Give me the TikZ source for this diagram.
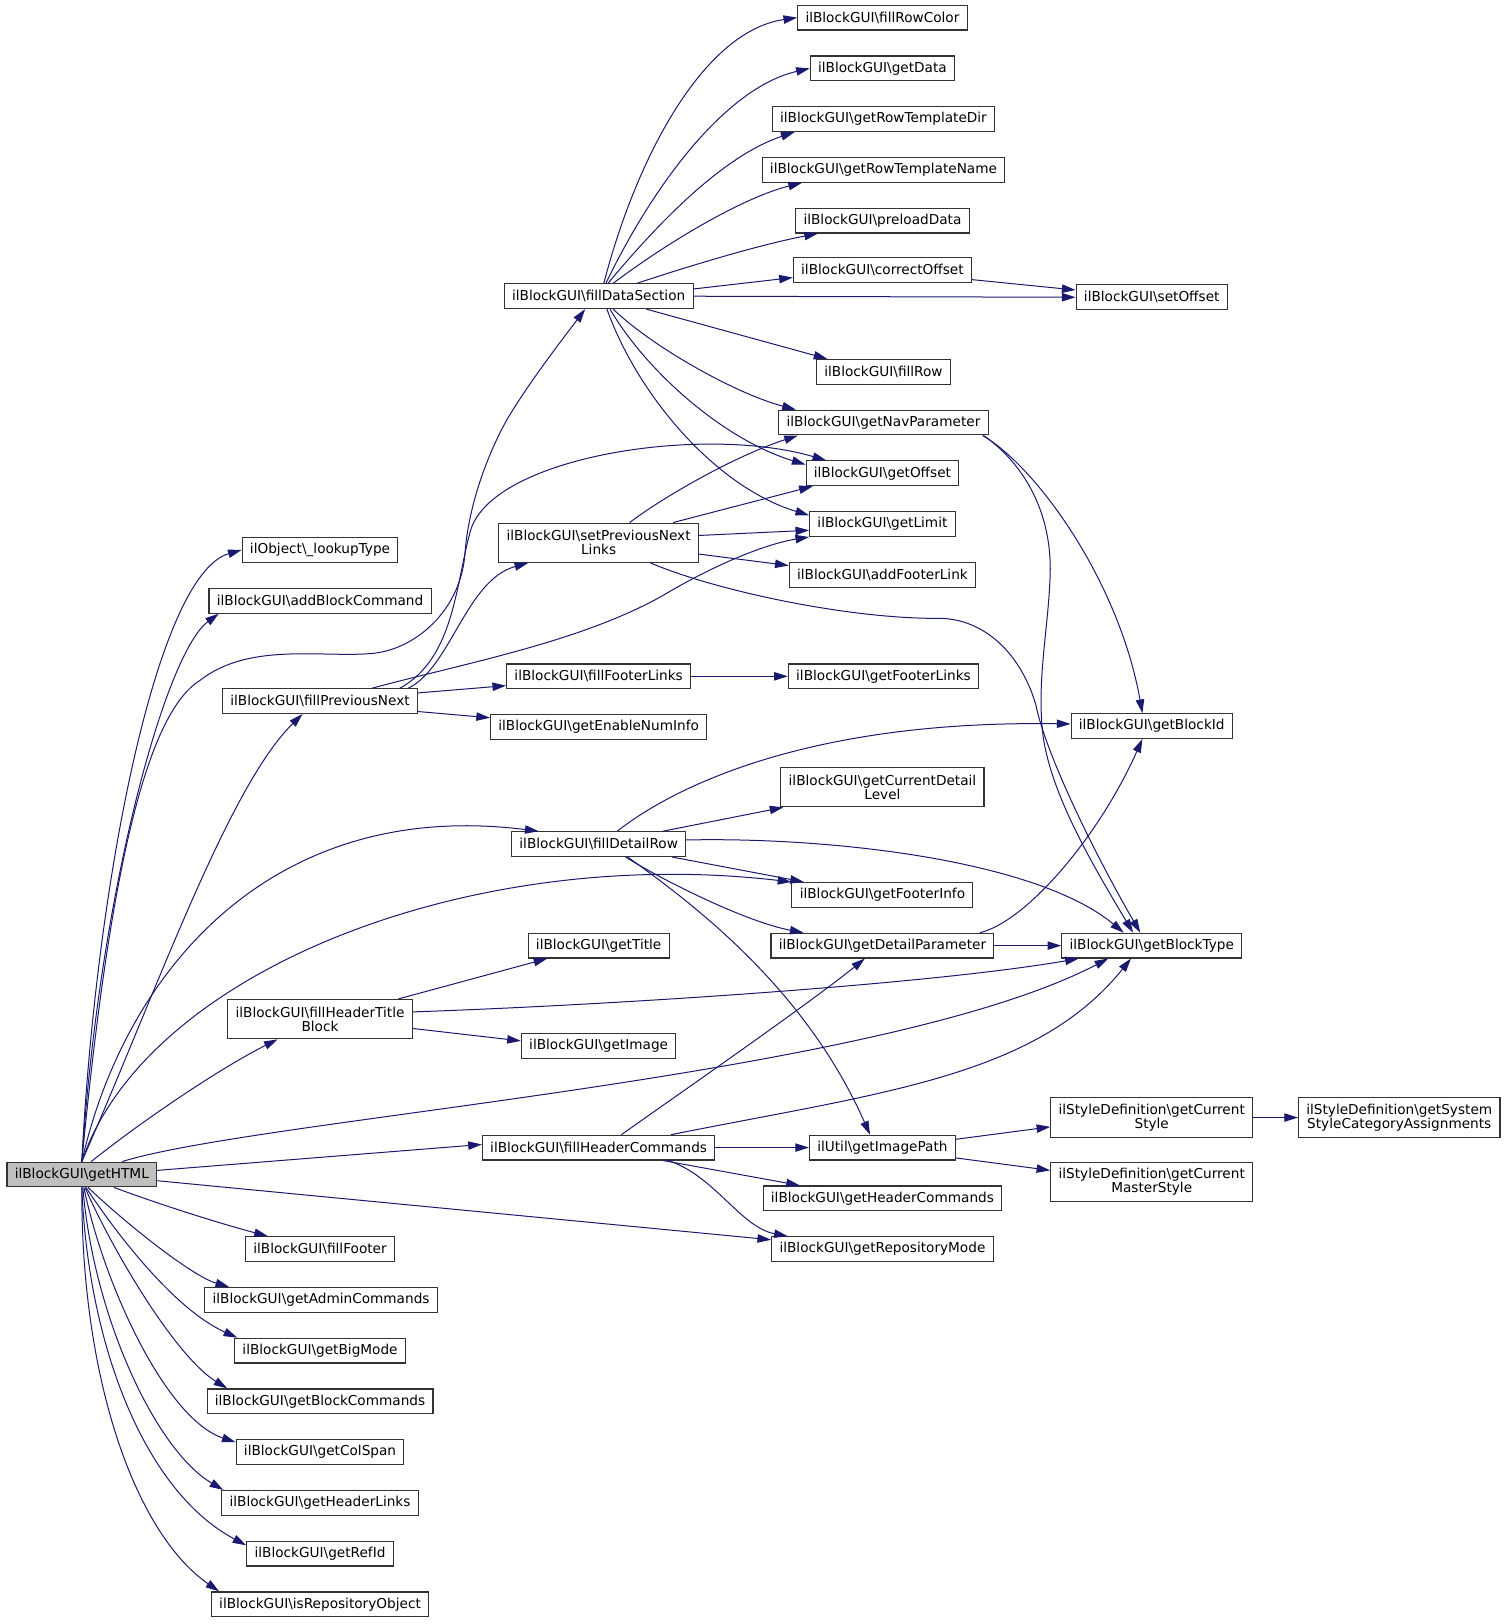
\documentclass[tikz,border=0pt]{standalone}
\usepackage{fontspec}
\setmainfont{DejaVu Sans}
\usetikzlibrary{arrows.meta}

\definecolor{callblue}{HTML}{191970}
\definecolor{rootgray}{HTML}{BFBFBF}
\newcommand{\bsl}{\textbackslash}

\begin{document}
\begin{tikzpicture}[
        x=0.02cm, y=-0.02cm,
        font=\fontsize{7.5}{7.9}\selectfont,
        fn/.style={
            draw=black!80,
            fill=white,
            line width=0.6pt,
            align=center,
            inner xsep=4.3pt,
            inner ysep=1pt,
            minimum height=13.6pt
        },
        fntwo/.style={fn, minimum height=21.6pt},
        rootfn/.style={fn, fill=rootgray},
        call/.style={
            draw=callblue,
            line width=0.55pt,
            -{Triangle[length=7.5pt, width=4.6pt]}
        }
    ]

    \useasboundingbox (0,0) rectangle (1453,1568);

    % caller
    \node[rootfn] (gethtml) at (79,1134) {ilBlockGUI\bsl getHTML};

    % first column
    \node[fn] (lookuptype) at (309,531) {ilObject\bsl\_lookupType};
    \node[fn] (addblockcmd) at (309,580) {ilBlockGUI\bsl addBlockCommand};
    \node[fn] (fillprevnext) at (309,677) {ilBlockGUI\bsl fillPreviousNext};
    \node[fntwo] (fillhdrtitle) at (309,984) {ilBlockGUI\bsl fillHeaderTitle\\Block};
    \node[fn] (fillfooter) at (309,1206) {ilBlockGUI\bsl fillFooter};
    \node[fn] (getadmincmds) at (310,1255) {ilBlockGUI\bsl getAdminCommands};
    \node[fn] (getbigmode) at (309,1304) {ilBlockGUI\bsl getBigMode};
    \node[fn] (getblockcmds) at (309,1353) {ilBlockGUI\bsl getBlockCommands};
    \node[fn] (getcolspan) at (309,1402) {ilBlockGUI\bsl getColSpan};
    \node[fn] (gethdrlinks) at (309,1451) {ilBlockGUI\bsl getHeaderLinks};
    \node[fn] (getrefid) at (309,1500) {ilBlockGUI\bsl getRefId};
    \node[fn] (isrepoobj) at (309,1549) {ilBlockGUI\bsl isRepositoryObject};

    % second column
    \node[fn] (filldatasec) at (578,286) {ilBlockGUI\bsl fillDataSection};
    \node[fntwo] (setprevnextlinks) at (578,524) {ilBlockGUI\bsl setPreviousNext\\Links};
    \node[fn] (fillfooterlinks) at (578,653) {ilBlockGUI\bsl fillFooterLinks};
    \node[fn] (getenablenuminfo) at (578,702) {ilBlockGUI\bsl getEnableNumInfo};
    \node[fn] (filldetailrow) at (578,815) {ilBlockGUI\bsl fillDetailRow};
    \node[fn] (gettitle) at (578,913) {ilBlockGUI\bsl getTitle};
    \node[fn] (getimage) at (578,1010) {ilBlockGUI\bsl getImage};
    \node[fn] (fillhdrcmds) at (578,1108) {ilBlockGUI\bsl fillHeaderCommands};

    % third column
    \node[fn] (fillrowcolor) at (852,17) {ilBlockGUI\bsl fillRowColor};
    \node[fn] (getdata) at (852,66) {ilBlockGUI\bsl getData};
    \node[fn] (getrowtpldir) at (853,115) {ilBlockGUI\bsl getRowTemplateDir};
    \node[fn] (getrowtplname) at (853,164) {ilBlockGUI\bsl getRowTemplateName};
    \node[fn] (preloaddata) at (852,213) {ilBlockGUI\bsl preloadData};
    \node[fn] (correctoffset) at (852,261) {ilBlockGUI\bsl correctOffset};
    \node[fn] (fillrow) at (853,359) {ilBlockGUI\bsl fillRow};
    \node[fn] (getnavparam) at (853,408) {ilBlockGUI\bsl getNavParameter};
    \node[fn] (getoffset) at (852,457) {ilBlockGUI\bsl getOffset};
    \node[fn] (getlimit) at (852,506) {ilBlockGUI\bsl getLimit};
    \node[fn] (addfooterlink) at (852,555) {ilBlockGUI\bsl addFooterLink};
    \node[fn] (getfooterlinks) at (853,653) {ilBlockGUI\bsl getFooterLinks};
    \node[fntwo] (getcurdetail) at (852,760) {ilBlockGUI\bsl getCurrentDetail\\Level};
    \node[fn] (getfooterinfo) at (852,864) {ilBlockGUI\bsl getFooterInfo};
    \node[fn] (getdetailparam) at (852,913) {ilBlockGUI\bsl getDetailParameter};
    \node[fn] (getimagepath) at (852,1108) {ilUtil\bsl getImagePath};
    \node[fn] (gethdrcmds) at (852,1157) {ilBlockGUI\bsl getHeaderCommands};
    \node[fn] (getrepomode) at (852,1206) {ilBlockGUI\bsl getRepositoryMode};

    % fourth and fifth column
    \node[fn] (setoffset) at (1112,287) {ilBlockGUI\bsl setOffset};
    \node[fn] (getblockid) at (1112,701) {ilBlockGUI\bsl getBlockId};
    \node[fn] (getblocktype) at (1112,913) {ilBlockGUI\bsl getBlockType};
    \node[fntwo] (getcurstyle) at (1112,1079) {ilStyleDefinition\bsl getCurrent\\Style};
    \node[fntwo] (getcurmaster) at (1112,1141) {ilStyleDefinition\bsl getCurrent\\MasterStyle};
    \node[fntwo] (getsysstyle) at (1351,1079) {ilStyleDefinition\bsl getSystem\\StyleCategoryAssignments};

    % calls of getHTML
    \draw[call] (gethtml.north) .. controls (92,860) and (150,555) .. (lookuptype.west);
    \draw[call] (gethtml.north) .. controls (96,860) and (160,630) .. ([shift={(10,0)}]addblockcmd.south west);
    \draw[call] (gethtml.north) .. controls (105,850) and (140,690) .. (193,657)
        .. controls (240,620) and (310,635) .. (358,631)
        .. controls (400,628) and (445,590) .. (449,534)
        .. controls (452,490) and (470,440) .. (489,406)
        .. controls (510,370) and (545,325) .. ([shift={(-13,0)}]filldatasec.south);
    \draw[call] (gethtml.north) .. controls (150,960) and (220,760) .. ([shift={(-17,0)}]fillprevnext.south);
    \draw[call] (gethtml.north) .. controls (120,940) and (260,770) .. ([shift={(-58,0)}]filldetailrow.north);
    \draw[call] (gethtml.north) .. controls (140,940) and (450,815) .. (getfooterinfo.north west);
    \draw[call] ([shift={(9,0)}]gethtml.north) .. controls (140,1080) and (215,1030) .. ([shift={(-41,0)}]fillhdrtitle.south);
    \draw[call] ([shift={(39,0)}]gethtml.north) .. controls (250,1080) and (850,1040) .. ([shift={(-42,0)}]getblocktype.south);
    \draw[call] ([shift={(0,-4)}]gethtml.east) -- ([shift={(0,-3)}]fillhdrcmds.west);
    \draw[call] ([shift={(0,6)}]gethtml.east) -- ([shift={(0,-9)}]getrepomode.west);
    \draw[call] ([shift={(31,0)}]gethtml.south) .. controls (160,1165) and (215,1182) .. ([shift={(22,0)}]fillfooter.north west);
    \draw[call] ([shift={(6,0)}]gethtml.south) .. controls (120,1180) and (185,1232) .. ([shift={(24,0)}]getadmincmds.north west);
    \draw[call] ([shift={(4,0)}]gethtml.south) .. controls (115,1195) and (170,1265) .. ([shift={(3,0)}]getbigmode.north west);
    \draw[call] ([shift={(3,0)}]gethtml.south) .. controls (110,1210) and (170,1310) .. ([shift={(20,0)}]getblockcmds.north west);
    \draw[call] ([shift={(2,0)}]gethtml.south) .. controls (100,1240) and (160,1370) .. ([shift={(0,3)}]getcolspan.north west);
    \draw[call] ([shift={(1,0)}]gethtml.south) .. controls (90,1270) and (150,1400) .. ([shift={(2,0)}]gethdrlinks.north west);
    \draw[call] (gethtml.south) .. controls (85,1300) and (140,1440) .. ([shift={(0,-8)}]getrefid.west);
    \draw[call] (gethtml.south) .. controls (78,1330) and (130,1480) .. ([shift={(8,0)}]isrepoobj.north west);

    % calls of fillDataSection
    \draw[call] ([shift={(5,0)}]filldatasec.north) .. controls (615,150) and (680,30) .. (fillrowcolor.west);
    \draw[call] ([shift={(7,0)}]filldatasec.north) .. controls (630,180) and (700,85) .. (getdata.west);
    \draw[call] ([shift={(9,0)}]filldatasec.north) .. controls (640,210) and (700,150) .. ([shift={(22,0)}]getrowtpldir.south west);
    \draw[call] ([shift={(14,0)}]filldatasec.north) .. controls (650,230) and (720,190) .. ([shift={(39,0)}]getrowtplname.south west);
    \draw[call] ([shift={(37,0)}]filldatasec.north) .. controls (680,252) and (740,235) .. ([shift={(22,0)}]preloaddata.south west);
    \draw[call] ([shift={(0,-7)}]filldatasec.east) -- ([shift={(0,7)}]correctoffset.west);
    \draw[call] (filldatasec.east) -- (setoffset.west);
    \draw[call] ([shift={(46,0)}]filldatasec.south) -- ([shift={(11,0)}]fillrow.north west);
    \draw[call] ([shift={(14,0)}]filldatasec.south) .. controls (630,335) and (710,380) .. ([shift={(17,0)}]getnavparam.north west);
    \draw[call] ([shift={(11,0)}]filldatasec.south) .. controls (625,360) and (700,425) .. ([shift={(0,4)}]getoffset.north west);
    \draw[call] ([shift={(8,0)}]filldatasec.south) .. controls (615,380) and (690,470) .. ([shift={(0,4)}]getlimit.north west);
    \draw[call] ([shift={(0,9)}]correctoffset.east) -- ([shift={(0,-7)}]setoffset.west);

    % calls of fillPreviousNext
    \draw[call] ([shift={(85,0)}]fillprevnext.north) .. controls (435,645) and (450,560) .. ([shift={(-68,0)}]setprevnextlinks.south);
    \draw[call] ([shift={(77,0)}]fillprevnext.north) .. controls (440,635) and (440,560) .. (455,510)
        .. controls (480,440) and (680,410) .. ([shift={(20,0)}]getoffset.north west);
    \draw[call] ([shift={(50,0)}]fillprevnext.north) .. controls (450,640) and (560,620) .. (640,575)
        .. controls (690,545) and (740,525) .. (getlimit.south west);
    \draw[call] ([shift={(0,-8)}]fillprevnext.east) -- ([shift={(0,9)}]fillfooterlinks.west);
    \draw[call] ([shift={(0,10)}]fillprevnext.east) -- ([shift={(0,-9)}]getenablenuminfo.west);

    % calls of setPreviousNextLinks
    \draw[call] ([shift={(30,0)}]setprevnextlinks.north) .. controls (640,480) and (710,440) .. ([shift={(19,0)}]getnavparam.south west);
    \draw[call] ([shift={(72,0)}]setprevnextlinks.north) -- ([shift={(7,0)}]getoffset.south west);
    \draw[call] ([shift={(0,-7)}]setprevnextlinks.east) -- ([shift={(0,6)}]getlimit.west);
    \draw[call] ([shift={(0,11)}]setprevnextlinks.east) -- ([shift={(0,-9)}]addfooterlink.west);
    \draw[call] ([shift={(50,0)}]setprevnextlinks.south) .. controls (690,570) and (820,598) .. (908,597)
        .. controls (950,598) and (985,630) .. (1000,680)
        .. controls (1010,730) and (1060,830) .. ([shift={(-11,0)}]getblocktype.north);

    % calls of getNavParameter
    \draw[call] ([shift={(-6,0)}]getnavparam.south east) .. controls (1000,450) and (1080,560) .. ([shift={(-9,0)}]getblockid.north);
    \draw[call] ([shift={(-5,0)}]getnavparam.south east) .. controls (985,445) and (1015,490) .. (1014,552)
        .. controls (1013,600) and (1002,650) .. (1006,700)
        .. controls (1010,760) and (1055,835) .. ([shift={(-18,0)}]getblocktype.north);

    \draw[call] (fillfooterlinks.east) -- (getfooterlinks.west);

    % calls of fillDetailRow
    \draw[call] ([shift={(18,0)}]filldetailrow.north) .. controls (650,760) and (780,695) .. ([shift={(0,-2)}]getblockid.west);
    \draw[call] ([shift={(62,0)}]filldetailrow.north) -- ([shift={(3,0)}]getcurdetail.south west);
    \draw[call] ([shift={(0,-4)}]filldetailrow.east) .. controls (800,808) and (1000,830) .. ([shift={(-27,0)}]getblocktype.north);
    \draw[call] ([shift={(71,0)}]filldetailrow.south) -- ([shift={(12,0)}]getfooterinfo.north west);
    \draw[call] ([shift={(26,0)}]filldetailrow.south) .. controls (640,850) and (720,890) .. ([shift={(32,0)}]getdetailparam.north west);
    \draw[call] ([shift={(28,0)}]filldetailrow.south) .. controls (680,880) and (780,960) .. ([shift={(-12,0)}]getimagepath.north);

    % calls of getDetailParameter
    \draw[call] (getdetailparam.east) -- (getblocktype.west);
    \draw[call] ([shift={(-14,0)}]getdetailparam.north east) .. controls (990,890) and (1060,810) .. ([shift={(-9,0)}]getblockid.south);

    % calls of fillHeaderTitleBlock
    \draw[call] ([shift={(-14,0)}]fillhdrtitle.north east) -- ([shift={(19,0)}]gettitle.south west);
    \draw[call] ([shift={(0,9)}]fillhdrtitle.east) -- ([shift={(0,-5)}]getimage.west);
    \draw[call] ([shift={(0,-7)}]fillhdrtitle.east) .. controls (600,970) and (900,950) .. ([shift={(17,0)}]getblocktype.south west);

    % calls of fillHeaderCommands
    \draw[call] ([shift={(22,0)}]fillhdrcmds.north) .. controls (650,1060) and (780,970) .. ([shift={(-17,0)}]getdetailparam.south);
    \draw[call] ([shift={(70,0)}]fillhdrcmds.north) .. controls (850,1055) and (1000,1040) .. ([shift={(-20,0)}]getblocktype.south);
    \draw[call] (fillhdrcmds.east) -- (getimagepath.west);
    \draw[call] ([shift={(62,0)}]fillhdrcmds.south) -- ([shift={(36,0)}]gethdrcmds.north west);
    \draw[call] ([shift={(67,0)}]fillhdrcmds.south) .. controls (690,1135) and (715,1185) .. ([shift={(16,0)}]getrepomode.north west);

    % calls of getImagePath
    \draw[call] ([shift={(0,-8)}]getimagepath.east) -- ([shift={(0,9)}]getcurstyle.west);
    \draw[call] ([shift={(0,10)}]getimagepath.east) -- ([shift={(0,-11)}]getcurmaster.west);
    \draw[call] (getcurstyle.east) -- (getsysstyle.west);

\end{tikzpicture}
\end{document}
